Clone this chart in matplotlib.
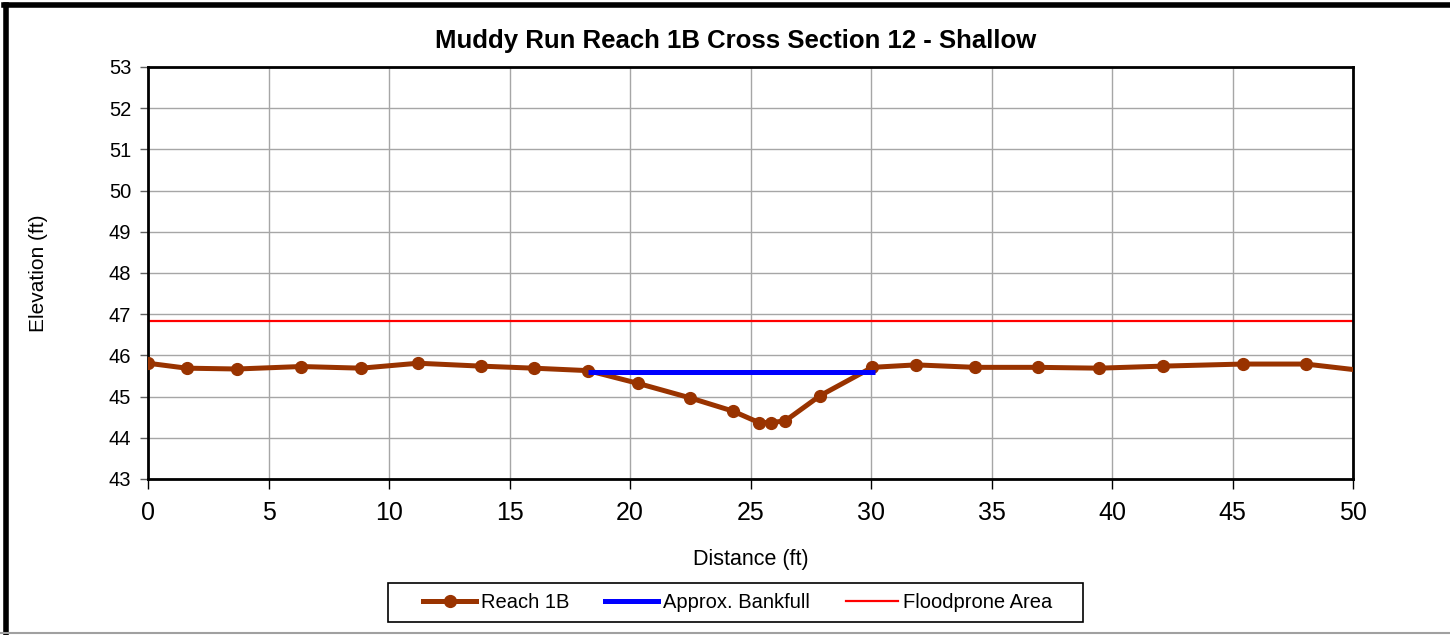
import matplotlib as mpl
mpl.use('Agg')
import matplotlib.pyplot as plt
from matplotlib.lines import Line2D
from matplotlib.patches import Rectangle

plt.rcParams['font.family'] = ['Liberation Sans', 'DejaVu Sans']

# survey points
distance = [0.0, 1.6, 3.7, 6.35, 8.85, 11.2, 13.8, 16.0, 18.27, 20.34, 22.49, 24.26,
            25.35, 25.84, 26.44, 27.88, 30.05, 31.87, 34.32, 36.94, 39.46, 42.13,
            45.42, 48.04, 51.0]
elevation = [45.81, 45.69, 45.67, 45.73, 45.69, 45.81, 45.74, 45.69, 45.63, 45.32,
             44.97, 44.65, 44.37, 44.37, 44.41, 45.02, 45.71, 45.77, 45.71, 45.71,
             45.69, 45.74, 45.79, 45.79, 45.59]

bankfull_x = [18.27, 30.17]
bankfull_y = [45.6, 45.6]
floodprone_x = [0, 50]
floodprone_y = [46.83, 46.83]

x_ticks = list(range(0, 51, 5))
y_ticks = list(range(43, 54))

brown = '#993300'
W, H = 1450, 635

fig = plt.figure(figsize=(14.5, 6.35), dpi=100)
ax = fig.add_axes([148/W, 1 - 479/H, (1353-148)/W, (479-67)/H])

ax.plot(floodprone_x, floodprone_y, color='#ff0000', lw=1.6, zorder=2)
ax.plot(distance, elevation, color=brown, lw=3.6, marker='o', ms=8.5,
        markeredgecolor=brown, markerfacecolor=brown, zorder=3)
ax.plot(bankfull_x, bankfull_y, color='#0000ff', lw=3.6, zorder=4,
        solid_capstyle='butt')

ax.set_xlim(0, 50)
ax.set_ylim(43, 53)
ax.set_xticks(x_ticks)
ax.set_yticks(y_ticks)
ax.grid(True, color='#a6a6a6', lw=1.0)
ax.set_axisbelow(True)
for s in ax.spines.values():
    s.set_linewidth(2.0)
    s.set_color('black')
ax.tick_params(axis='x', direction='out', length=7, width=1, labelsize=18, pad=9)
ax.tick_params(axis='y', direction='out', length=6, width=1, color='#606060',
               labelsize=14.5, pad=6)

ax.set_xlabel('Distance (ft)', fontsize=15.5, labelpad=17)
ax.set_ylabel('Elevation (ft)', fontsize=15, labelpad=44)

fig.text(736/W, 1 - 41/H, 'Muddy Run Reach 1B Cross Section 12 - Shallow',
         ha='center', va='center', fontsize=18.5, fontweight='bold')

handles = [Line2D([], [], color=brown, lw=3.6, marker='o', ms=8.5),
           Line2D([], [], color='#0000ff', lw=3.6),
           Line2D([], [], color='#ff0000', lw=1.6)]
labels = ['Reach 1B', 'Approx. Bankfull', 'Floodprone Area']
leg = fig.legend(handles, labels, loc='center', ncol=3,
                 bbox_to_anchor=(738/W, 1 - 603/H), fontsize=14.5,
                 frameon=False, handlelength=2.6, handletextpad=0.25,
                 columnspacing=1.8)

# legend box
fig.add_artist(Rectangle((388/W, 1 - 622/H), (1083-388)/W, (622-583)/H,
                         transform=fig.transFigure, fill=False,
                         edgecolor='black', lw=1.2))

# outer chart border
fig.add_artist(Line2D([6/W, 6/W], [0, 1 - 5/H], color='black', lw=4,
                      transform=fig.transFigure))
fig.add_artist(Line2D([4/W, 1], [1 - 5/H, 1 - 5/H], color='black', lw=4,
                      transform=fig.transFigure))
fig.add_artist(Line2D([0, 1], [2/H, 2/H], color='#a0a0a0', lw=1.5,
                      transform=fig.transFigure))

fig.savefig('out.png', dpi=100)
